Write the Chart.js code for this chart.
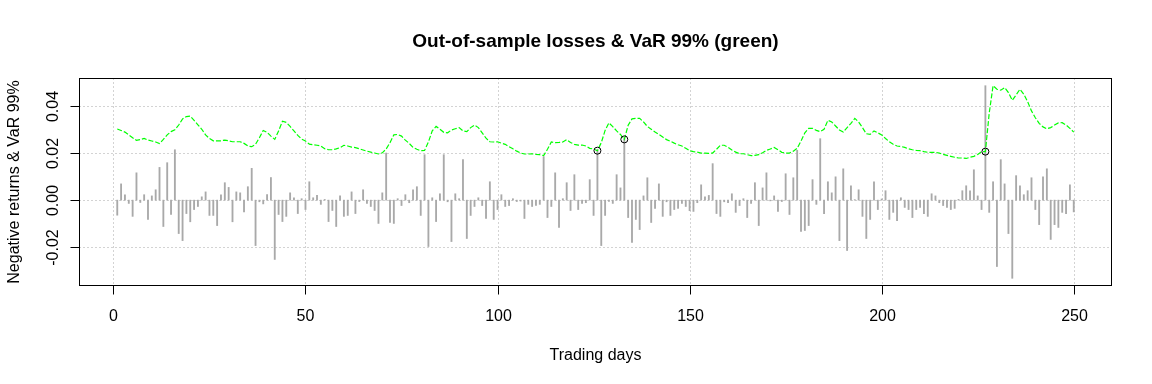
<!DOCTYPE html>
<html>
<head>
<meta charset="utf-8">
<script src="https://cdn.jsdelivr.net/npm/chart.js@4.4.1/dist/chart.umd.min.js"></script>
<style>
  html, body { margin: 0; padding: 0; background: #fff; }
  #wrap { width: 1152px; height: 384px; }
</style>
</head>
<body>
<div id="wrap"><canvas id="c" width="1152" height="384"></canvas></div>
<script>
// negative returns, days 1..250
const losses = [
  -0.0064, 0.0069, 0.0023, -0.0014, -0.0069, 0.0116, -0.0010, 0.0023, -0.0082, 0.0018,
  0.0044, 0.0139, -0.0112, 0.0159, -0.0061, 0.0214, -0.0142, -0.0172, -0.0057, -0.0092,
  -0.0040, -0.0027, 0.0014, 0.0035, -0.0065, -0.0065, -0.0108, 0.0023, 0.0074, 0.0054,
  -0.0092, 0.0035, 0.0031, -0.0050, 0.0057, 0.0135, -0.0193, -0.0007, -0.0016, 0.0024,
  0.0096, -0.0252, -0.0061, -0.0091, -0.0069, 0.0031, 0.0010, -0.0057, 0.0006, -0.0040,
  0.0078, 0.0010, 0.0020, -0.0018, 0.0003, -0.0091, -0.0044, -0.0112, 0.0018, -0.0069,
  -0.0065, 0.0035, -0.0057, -0.0006, 0.0044, -0.0014, -0.0027, -0.0044, -0.0099, 0.0031,
  0.0200, -0.0095, -0.0099, 0.0006, -0.0023, 0.0023, -0.0011, 0.0044, 0.0057, -0.0065,
  0.0193, -0.0197, 0.0010, -0.0091, 0.0027, 0.0193, -0.0007, -0.0176, 0.0027, 0.0006,
  0.0172, -0.0163, -0.0065, -0.0027, 0.0010, -0.0023, -0.0078, 0.0078, -0.0082, -0.0040,
  0.0023, -0.0027, -0.0023, 0.0006, -0.0006, -0.0004, -0.0078, -0.0018, -0.0027, -0.0023,
  -0.0018, 0.0185, -0.0074, -0.0027, 0.0116, -0.0116, 0.0006, 0.0074, -0.0044, 0.0108,
  -0.0040, -0.0014, -0.0011, 0.0087, -0.0065, 0.0214, -0.0193, -0.0065, -0.0006, -0.0014,
  0.0108, 0.0052, 0.0266, -0.0074, -0.0180, -0.0082, -0.0125, 0.0018, 0.0095, -0.0095,
  -0.0035, 0.0069, -0.0069, -0.0007, -0.0065, -0.0040, -0.0035, -0.0014, -0.0027, -0.0045,
  -0.0048, -0.0011, 0.0065, 0.0014, 0.0020, 0.0155, -0.0057, -0.0069, -0.0007, -0.0011,
  0.0027, -0.0052, -0.0023, 0.0006, -0.0074, -0.0014, 0.0074, -0.0108, 0.0052, 0.0116,
  -0.0003, 0.0018, -0.0048, -0.0006, 0.0112, -0.0061, 0.0095, 0.0212, -0.0133, -0.0129,
  -0.0108, 0.0087, -0.0018, 0.0261, -0.0057, 0.0078, 0.0031, 0.0099, -0.0172, 0.0133,
  -0.0214, 0.0061, 0.0002, 0.0044, -0.0069, -0.0163, -0.0082, 0.0078, -0.0040, 0.0005,
  0.0040, -0.0082, -0.0052, -0.0087, 0.0010, -0.0031, -0.0040, -0.0074, -0.0040, -0.0031,
  -0.0057, -0.0069, 0.0027, 0.0018, -0.0011, -0.0023, -0.0031, -0.0040, -0.0035, 0.0003,
  0.0040, 0.0061, 0.0040, 0.0129, 0.0018, -0.0040, 0.0486, -0.0052, 0.0078, -0.0282,
  0.0172, 0.0069, -0.0142, -0.0332, 0.0104, 0.0061, 0.0023, 0.0040, 0.0095, -0.0040,
  -0.0104, 0.0099, 0.0133, -0.0167, -0.0104, -0.0116, -0.0052, -0.0057, 0.0065, -0.0050
];

// VaR 99% forecast, days 1..250
const var99 = [
  0.0302, 0.0296, 0.0289, 0.0277, 0.0265, 0.0254, 0.0257, 0.0262, 0.0255, 0.0251,
  0.0247, 0.0240, 0.0258, 0.0277, 0.0291, 0.0299, 0.0319, 0.0345, 0.0355, 0.0357,
  0.0339, 0.0320, 0.0301, 0.0277, 0.0262, 0.0252, 0.0252, 0.0252, 0.0255, 0.0252,
  0.0248, 0.0248, 0.0248, 0.0241, 0.0230, 0.0227, 0.0237, 0.0265, 0.0296, 0.0288,
  0.0272, 0.0258, 0.0294, 0.0335, 0.0330, 0.0313, 0.0294, 0.0275, 0.0259, 0.0251,
  0.0238, 0.0235, 0.0233, 0.0230, 0.0218, 0.0214, 0.0214, 0.0218, 0.0223, 0.0233,
  0.0230, 0.0225, 0.0223, 0.0218, 0.0213, 0.0208, 0.0204, 0.0200, 0.0196, 0.0201,
  0.0217, 0.0244, 0.0277, 0.0279, 0.0272, 0.0255, 0.0241, 0.0224, 0.0216, 0.0210,
  0.0211, 0.0247, 0.0294, 0.0313, 0.0301, 0.0288, 0.0286, 0.0298, 0.0303, 0.0308,
  0.0294, 0.0291, 0.0308, 0.0319, 0.0308, 0.0286, 0.0263, 0.0248, 0.0247, 0.0248,
  0.0242, 0.0237, 0.0227, 0.0218, 0.0208, 0.0200, 0.0196, 0.0196, 0.0197, 0.0194,
  0.0193, 0.0189, 0.0216, 0.0247, 0.0244, 0.0245, 0.0247, 0.0257, 0.0245, 0.0237,
  0.0234, 0.0234, 0.0230, 0.0220, 0.0217, 0.0210, 0.0244, 0.0296, 0.0328, 0.0312,
  0.0294, 0.0279, 0.0258, 0.0318, 0.0345, 0.0347, 0.0347, 0.0332, 0.0313, 0.0301,
  0.0289, 0.0279, 0.0268, 0.0257, 0.0250, 0.0242, 0.0235, 0.0230, 0.0220, 0.0210,
  0.0206, 0.0204, 0.0200, 0.0200, 0.0199, 0.0200, 0.0216, 0.0233, 0.0233, 0.0225,
  0.0213, 0.0204, 0.0197, 0.0197, 0.0193, 0.0189, 0.0190, 0.0193, 0.0201, 0.0211,
  0.0217, 0.0224, 0.0214, 0.0203, 0.0200, 0.0200, 0.0208, 0.0220, 0.0251, 0.0286,
  0.0305, 0.0305, 0.0296, 0.0291, 0.0301, 0.0339, 0.0332, 0.0315, 0.0298, 0.0289,
  0.0308, 0.0326, 0.0347, 0.0332, 0.0308, 0.0282, 0.0279, 0.0294, 0.0286, 0.0277,
  0.0262, 0.0248, 0.0237, 0.0230, 0.0228, 0.0224, 0.0218, 0.0214, 0.0211, 0.0210,
  0.0206, 0.0203, 0.0203, 0.0203, 0.0200, 0.0194, 0.0190, 0.0186, 0.0182, 0.0179,
  0.0179, 0.0177, 0.0182, 0.0186, 0.0194, 0.0206, 0.0206, 0.0370, 0.0486, 0.0471,
  0.0467, 0.0478, 0.0457, 0.0424, 0.0447, 0.0471, 0.0450, 0.0418, 0.0379, 0.0350,
  0.0326, 0.0311, 0.0303, 0.0308, 0.0319, 0.0328, 0.0329, 0.0319, 0.0305, 0.0289
];

const xTicks = [0, 50, 100, 150, 200, 250];
const yTicks = [-0.02, 0, 0.02, 0.04];
const yTickLabels = ["-0.02", "0.00", "0.02", "0.04"];

const days = losses.map((_, i) => i + 1);

// R style axis range: data range widened by 4% each side
function rRange(vals) {
  const lo = Math.min(...vals), hi = Math.max(...vals);
  const pad = (hi - lo) * 0.04;
  return [lo - pad, hi + pad];
}
const [xMin, xMax] = rRange(days);
const [yMin, yMax] = rRange(losses.concat(var99));

const lossPts = days.map((d, i) => ({ x: d, y: losses[i] }));
const varPts = days.map((d, i) => ({ x: d, y: var99[i] }));
const hitPts = days.filter((d, i) => losses[i] > var99[i]).map((d) => ({ x: d, y: var99[d - 1] }));

const FONT = "'Liberation Sans', Arial, sans-serif";

// grid, box, ticks and labels drawn the way base R does them
const rAxes = {
  id: "rAxes",
  beforeDatasetsDraw(chart) {
    const { ctx, chartArea: a, scales: { x, y } } = chart;
    ctx.save();
    ctx.strokeStyle = "#d3d3d3";
    ctx.lineWidth = 1;
    ctx.setLineDash([2, 2]);
    for (const v of xTicks) {
      const px = Math.round(x.getPixelForValue(v)) + 0.5;
      ctx.beginPath(); ctx.moveTo(px, a.top); ctx.lineTo(px, a.bottom); ctx.stroke();
    }
    for (const v of yTicks) {
      const py = Math.round(y.getPixelForValue(v)) + 0.5;
      ctx.beginPath(); ctx.moveTo(a.left, py); ctx.lineTo(a.right, py); ctx.stroke();
    }
    ctx.restore();
  },
  afterDraw(chart) {
    const { ctx, chartArea: a, scales: { x, y } } = chart;
    const L = Math.round(a.left) + 0.5, R = Math.round(a.right) - 0.5;
    const T = Math.round(a.top) + 0.5, B = Math.round(a.bottom) - 0.5;
    ctx.save();
    ctx.strokeStyle = "#000";
    ctx.lineWidth = 1;
    ctx.strokeRect(L, T, R - L, B - T);

    ctx.fillStyle = "#000";
    ctx.font = "16px " + FONT;
    ctx.textAlign = "center";
    ctx.textBaseline = "alphabetic";
    for (const v of xTicks) {
      const px = Math.round(x.getPixelForValue(v)) + 0.5;
      ctx.beginPath(); ctx.moveTo(px, B); ctx.lineTo(px, B + 9); ctx.stroke();
      ctx.fillText(String(v), px, B + 35);
    }
    yTicks.forEach((v, i) => {
      const py = Math.round(y.getPixelForValue(v)) + 0.5;
      ctx.beginPath(); ctx.moveTo(L - 9, py); ctx.lineTo(L, py); ctx.stroke();
      ctx.save();
      ctx.translate(L - 22, py);
      ctx.rotate(-Math.PI / 2);
      ctx.fillText(yTickLabels[i], 0, 0);
      ctx.restore();
    });

    const cx = (a.left + a.right) / 2, cy = (a.top + a.bottom) / 2;
    ctx.fillText("Trading days", cx, 360);
    ctx.save();
    ctx.translate(18.5, cy);
    ctx.rotate(-Math.PI / 2);
    ctx.fillText("Negative returns & VaR 99%", 0, 0);
    ctx.restore();

    ctx.font = "bold 19px " + FONT;
    ctx.fillText("Out-of-sample losses & VaR 99% (green)", cx, 47);
    ctx.restore();
  }
};

new Chart(document.getElementById("c"), {
  type: "bar",
  data: {
    datasets: [
      {
        type: "bar",
        data: lossPts,
        backgroundColor: "#a9a9a9",
        borderWidth: 0,
        barThickness: 1.2,
        order: 3
      },
      {
        type: "line",
        data: varPts,
        borderColor: "#00ff00",
        borderWidth: 1.2,
        borderDash: [5, 2],
        pointRadius: 0,
        tension: 0,
        fill: false,
        order: 2
      },
      {
        type: "scatter",
        data: hitPts,
        pointRadius: 3.5,
        pointStyle: "circle",
        borderColor: "#000",
        borderWidth: 1,
        backgroundColor: "rgba(0,0,0,0)",
        order: 1
      }
    ]
  },
  options: {
    responsive: false,
    animation: false,
    devicePixelRatio: 1,
    events: [],
    layout: { padding: { left: 79, right: 40, top: 78, bottom: 98 } },
    plugins: { legend: { display: false }, tooltip: { enabled: false }, title: { display: false } },
    scales: {
      x: { type: "linear", min: xMin, max: xMax, offset: false, display: false },
      y: { type: "linear", min: yMin, max: yMax, display: false }
    }
  },
  plugins: [rAxes]
});
</script>
</body>
</html>
